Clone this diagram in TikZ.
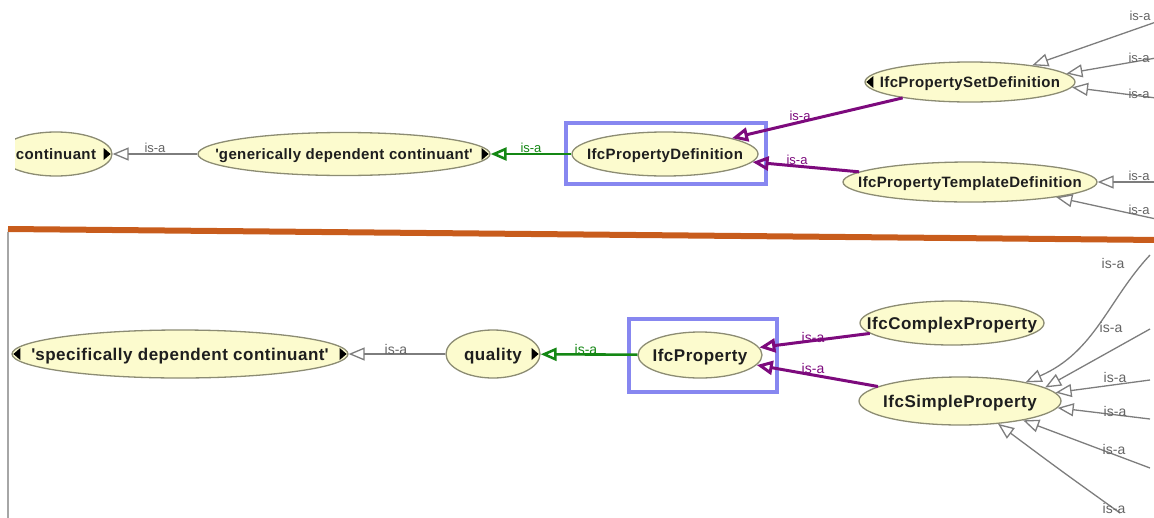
\documentclass[tikz,border=0pt]{standalone}
\usepackage{fontspec}
\setmainfont{Liberation Sans}
\newfontfamily\nfont[LetterSpace=2.5]{Liberation Sans}
\newfontfamily\nfontb[LetterSpace=3]{Liberation Sans}
\usetikzlibrary{arrows.meta,shapes.geometric,calc}
\definecolor{efill}{RGB}{252,251,206}
\definecolor{edraw}{RGB}{140,140,115}
\definecolor{txt}{RGB}{30,30,30}
\definecolor{gline}{RGB}{125,125,125}
\definecolor{glbl}{RGB}{100,100,100}
\definecolor{ggreen}{RGB}{20,135,20}
\definecolor{ppurple}{RGB}{125,10,125}
\definecolor{bframe}{RGB}{135,135,240}
\definecolor{orangebar}{RGB}{200,92,28}
\newcommand\T[1]{\makebox[0pt]{\raisebox{-0.36em}[0pt][0pt]{#1}}}
\newcommand\mkR[1]{\fill[black] ($(#1.east)+(-9,-6)$) -- ($(#1.east)+(-9,6)$) -- ($(#1.east)+(-2,0)$) -- cycle;}
\newcommand\mkL[1]{\fill[black] ($(#1.west)+(9,-6)$) -- ($(#1.west)+(9,6)$) -- ($(#1.west)+(2,0)$) -- cycle;}
\begin{document}
\begin{tikzpicture}[x=1pt,y=-1pt,
  cls/.style={ellipse, draw=edraw, fill=efill, line width=1.3pt, inner sep=0pt, text=txt,
    font=\nfont\bfseries\fontsize{15}{15}\selectfont},
  clsb/.style={cls, font=\nfontb\bfseries\fontsize{17}{17}\selectfont},
  isa/.style={draw=gline, line width=1.3pt, -{Triangle[open,length=16pt,width=13pt]}},
  isagreen/.style={draw=ggreen, line width=2.6pt, -{Triangle[open,length=16pt,width=13pt]}},
  isapurple/.style={draw=ppurple, line width=3pt, -{Triangle[open,length=16pt,width=14pt]}},
  lbl/.style={font=\fontsize{13}{13}\selectfont, text=glbl, inner sep=0pt},
  lblg/.style={lbl, text=ggreen},
  lblp/.style={lbl, text=ppurple},
  lblb/.style={lbl, font=\fontsize{14}{14}\selectfont},
  lblbg/.style={lblb, text=ggreen},
  lblbp/.style={lblb, text=ppurple},
  frame/.style={draw=bframe, line width=4pt}
]
\useasboundingbox (0,0) rectangle (1154,517);

% separator and left border
\coordinate (barL) at (8,229);
\coordinate (barR) at (1160,240);
\draw[orangebar, line width=6pt] (barL) -- (barR);
\coordinate (vTop) at (8,232);
\coordinate (vBot) at (8,520);
\draw[gray!70, line width=1.5pt] (vTop) -- (vBot);

% ---------- top part ----------
\begin{scope}
  \clip (15,100) rectangle (200,200);
  \node[cls, minimum width=112pt, minimum height=44pt] (cont) at (56,154) {\T{continuant}};
  \mkR{cont}
\end{scope}
\node[cls, minimum width=292pt, minimum height=43pt] (gdc) at (344,154) {\T{\textquotesingle generically dependent continuant\textquotesingle}};
\mkR{gdc}
\node[frame, minimum width=200pt, minimum height=61pt, inner sep=0pt] (fr1) at (666,153.5) {};
\node[cls, minimum width=186pt, minimum height=44pt] (pd) at (665,154) {\T{IfcPropertyDefinition}};
\node[cls, minimum width=210pt, minimum height=40pt] (psd) at (970,82) {\T{IfcPropertySetDefinition}};
\mkL{psd}
\node[cls, minimum width=254pt, minimum height=40pt] (ptd) at (970,182) {\T{IfcPropertyTemplateDefinition}};

\draw[isa] (gdc) -- (cont);
\draw[isagreen] (pd) -- (gdc);
\draw[isapurple] (psd) -- (pd);
\draw[isapurple] (ptd) -- (pd);

\coordinate (a1) at (1156,22);
\coordinate (a2) at (1156,58);
\coordinate (a3) at (1156,98);
\coordinate (b1) at (1156,182);
\coordinate (b2) at (1156,219);
\draw[isa] (a1) -- (psd.15);
\draw[isa] (a2) -- (psd.5);
\draw[isa] (a3) -- (psd.-3);
\draw[isa] (b1) -- (ptd.east);
\draw[isa] (b2) -- (ptd.-10);

\node[lbl] (t1) at (155,148) {is-a};
\node[lblg] (t2) at (531,148) {is-a};
\node[lblp] (t3) at (800,116) {is-a};
\node[lblp] (t4) at (797,160) {is-a};
\node[lbl] (t5) at (1140,16) {is-a};
\node[lbl] (t6) at (1139,58) {is-a};
\node[lbl] (t7) at (1139,94) {is-a};
\node[lbl] (t8) at (1139,176) {is-a};
\node[lbl] (t9) at (1139,210) {is-a};

% ---------- bottom part ----------
\node[clsb, minimum width=336pt, minimum height=48pt] (sdc) at (180,354) {\T{\textquotesingle specifically dependent continuant\textquotesingle}};
\mkL{sdc}
\mkR{sdc}
\node[clsb, minimum width=94pt, minimum height=48pt] (qual) at (493,354) {\T{quality}};
\mkR{qual}
\node[frame, minimum width=148pt, minimum height=73pt, inner sep=0pt] (fr2) at (703,355.5) {};
\node[clsb, minimum width=124pt, minimum height=46pt] (ip) at (700,355) {\T{IfcProperty}};
\node[clsb, minimum width=184pt, minimum height=44pt] (icp) at (952,323) {\T{IfcComplexProperty}};
\node[clsb, minimum width=202pt, minimum height=48pt] (isp) at (960,401) {\T{IfcSimpleProperty}};

\draw[isa] (qual) -- (sdc);
\draw[isagreen] (ip) -- (qual);
\draw[isapurple] (icp) -- (ip);
\draw[isapurple] (isp) -- (ip);

\coordinate (c1) at (1150,255);
\coordinate (c2) at (1150,329);
\coordinate (c3) at (1150,380);
\coordinate (c4) at (1150,419);
\coordinate (c5) at (1150,468);
\coordinate (c6) at (1120,513);
\draw[isa] (c1) .. controls (1108,300) and (1095,352) .. (isp.16);
\draw[isa] (c2) -- (isp.9);
\draw[isa] (c3) -- (isp.5);
\draw[isa] (c4) -- (isp.-4);
\draw[isa] (c5) -- (isp.-17);
\draw[isa] (c6) .. controls (1060,470) .. (isp.-31);

\node[lblb] (u1) at (396,349) {is-a};
\node[lblbg] (u2) at (586,349) {is-a};
\node[lblbp] (u3) at (813,337) {is-a};
\node[lblbp] (u4) at (813,368) {is-a};
\node[lblb] (u5) at (1113,263) {is-a};
\node[lblb] (u6) at (1111,327) {is-a};
\node[lblb] (u7) at (1115,377) {is-a};
\node[lblb] (u8) at (1115,411) {is-a};
\node[lblb] (u9) at (1114,449) {is-a};
\node[lblb] (u10) at (1114,508) {is-a};
\end{tikzpicture}
\end{document}
